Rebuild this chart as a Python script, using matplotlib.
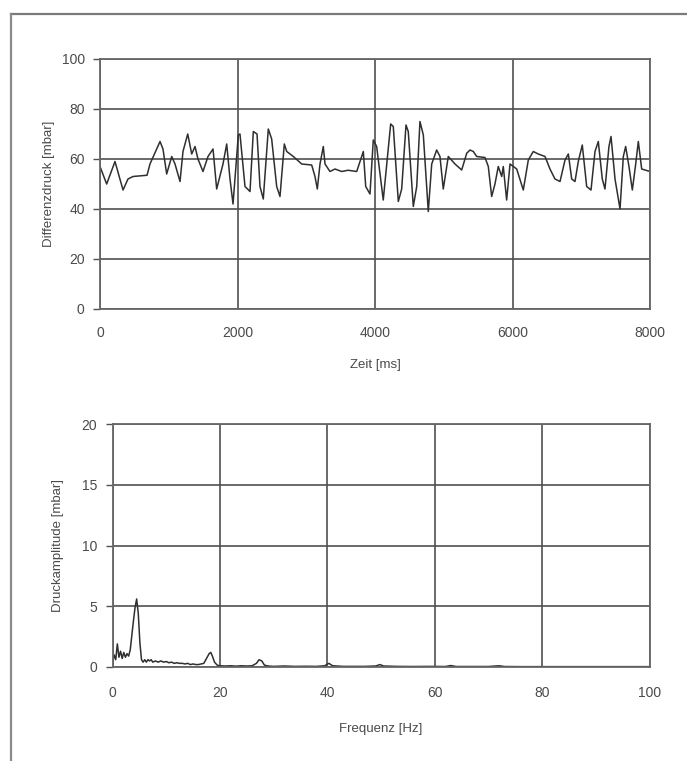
import matplotlib
matplotlib.use("Agg")
import matplotlib.pyplot as plt
from matplotlib.lines import Line2D

plt.rcParams['font.family'] = ['Liberation Sans', 'DejaVu Sans']

# ---- top: pressure difference over time ----
zeit_ms = [0, 97, 218, 335, 407, 480, 684, 727, 873, 916, 970, 1043, 1091, 1164, 1207,
           1276, 1334, 1382, 1425, 1498, 1571, 1644, 1697, 1789, 1843, 1891, 1935,
           2012, 2036, 2109, 2182, 2230, 2284, 2327, 2375, 2448, 2497, 2570, 2618,
           2681, 2716, 2812, 2934, 3079, 3127, 3161, 3200, 3248, 3273, 3345, 3418,
           3516, 3607, 3734, 3830, 3865, 3927, 3975, 4024, 4120, 4228, 4266, 4339,
           4388, 4451, 4484, 4557, 4607, 4654, 4703, 4775, 4825, 4897, 4945, 4993,
           5066, 5164, 5261, 5334, 5382, 5430, 5479, 5600, 5648, 5697, 5745, 5793,
           5843, 5866, 5915, 5964, 6061, 6157, 6230, 6302, 6375, 6473, 6545, 6618,
           6691, 6764, 6812, 6861, 6909, 6957, 7015, 7079, 7142, 7200, 7248, 7306,
           7345, 7403, 7433, 7491, 7564, 7612, 7646, 7694, 7743, 7792, 7830, 7879, 8000]
differenzdruck = [57, 50, 59, 47.6, 52, 53, 53.5, 58, 67, 64, 54, 61, 58, 51, 63,
                  70, 62, 65, 60, 55, 61, 64, 48, 58, 66, 52, 42,
                  69.6, 70, 49, 47, 71, 70, 49, 44, 72, 68, 49, 45,
                  66, 63, 61, 58, 57.6, 53, 48, 58, 65, 58, 55, 56,
                  55, 55.5, 55, 63, 49, 46, 67.6, 65, 43.6, 74, 73, 43,
                  48, 73.6, 71, 41, 49, 75, 69.6, 39, 58, 63.6, 61, 48,
                  61, 58, 55.6, 62.3, 63.6, 63, 61, 60.6, 57, 45, 50, 57,
                  53, 57, 43.6, 58, 56, 47.6, 59.6, 63, 62, 61, 56, 52,
                  51, 59.6, 62, 52, 51, 59, 65.6, 49, 47.6, 63, 67, 52,
                  48, 65, 69, 52, 40, 61, 65, 57, 47.6, 58, 67, 56, 55]

# ---- bottom: amplitude spectrum ----
frequenz_hz = [0.0, 0.3, 0.6, 0.9, 1.2, 1.5, 1.8, 2.1, 2.4, 2.7, 3.0, 3.3, 3.6, 3.9,
               4.2, 4.5, 4.8, 5.1, 5.4, 5.7, 6.0, 6.3, 6.6, 6.9, 7.2, 7.5, 8.0, 8.5,
               9.0, 9.5, 10, 10.5, 11, 11.5, 12, 12.5, 13, 13.5, 14, 14.5, 15, 15.5,
               16, 16.5, 17, 17.5, 18.0, 18.3, 18.6, 19.0, 19.5, 20, 21, 22, 23, 24,
               25, 26, 26.8, 27.3, 27.8, 28.3, 29, 30, 32, 34, 36, 38, 39.5, 40.3,
               41, 43, 45, 47, 49, 49.8, 50.5, 53, 56, 59, 62, 63, 64, 67, 70, 72,
               73, 76, 80, 84, 88, 92, 96, 100]
druckamplitude = [0.3, 1.0, 0.6, 1.9, 0.8, 1.3, 0.7, 1.2, 0.8, 1.1, 0.9, 1.4, 2.6, 3.8,
                  4.9, 5.6, 4.4, 2.0, 0.6, 0.4, 0.6, 0.4, 0.6, 0.5, 0.6, 0.4, 0.5, 0.4,
                  0.5, 0.4, 0.45, 0.35, 0.4, 0.3, 0.35, 0.3, 0.3, 0.25, 0.3, 0.2, 0.25, 0.2,
                  0.2, 0.25, 0.3, 0.7, 1.1, 1.2, 0.9, 0.4, 0.15, 0.1, 0.08, 0.1, 0.07, 0.1,
                  0.08, 0.1, 0.3, 0.6, 0.5, 0.15, 0.08, 0.05, 0.08, 0.05, 0.06, 0.05, 0.1, 0.3,
                  0.1, 0.05, 0.05, 0.05, 0.08, 0.2, 0.08, 0.05, 0.04, 0.05, 0.04, 0.12, 0.04, 0.04, 0.04, 0.1,
                  0.04, 0.03, 0.03, 0.03, 0.03, 0.03, 0.03, 0.03]

top_xticks = [0, 2000, 4000, 6000, 8000]
top_yticks = [0, 20, 40, 60, 80, 100]
bot_xticks = [0, 20, 40, 60, 80, 100]
bot_yticks = [0, 5, 10, 15, 20]

W, H = 687, 761
fig = plt.figure(figsize=(W / 100, H / 100), dpi=100)
fig.patch.set_facecolor('white')

txt = '#4a4a4a'
gridc = '#505050'


def style(ax, xt, yt, xl, yl, xpad, xlpad, ylpad):
    ax.set_xticks(xt)
    ax.set_yticks(yt)
    ax.set_xlim(xt[0], xt[-1])
    ax.set_ylim(yt[0], yt[-1])
    ax.grid(True, color=gridc, linewidth=1.2)
    for s in ax.spines.values():
        s.set_color('#666666')
        s.set_linewidth(1.3)
    ax.tick_params(axis='x', length=0, pad=xpad, labelsize=10, colors=txt)
    ax.tick_params(axis='y', length=5, width=1.0, color=gridc, pad=6, labelsize=10, labelcolor=txt)
    ax.set_xlabel(xl, fontsize=9.5, color=txt, labelpad=xlpad)
    ax.set_ylabel(yl, fontsize=9.5, color=txt, labelpad=ylpad)
    ax.set_axisbelow(True)


ax1 = fig.add_axes([100 / W, 1 - 309 / H, 550 / W, 250 / H])
ax1.plot(zeit_ms, differenzdruck, color='#2f2f2f', linewidth=1.1)
style(ax1, top_xticks, top_yticks, 'Zeit [ms]', 'Differenzdruck [mbar]', 12, 14, 5)

ax2 = fig.add_axes([112.5 / W, 1 - 667 / H, 537 / W, 243 / H])
ax2.plot(frequenz_hz, druckamplitude, color='#2f2f2f', linewidth=1.1)
style(ax2, bot_xticks, bot_yticks, 'Frequenz [Hz]', 'Druckamplitude [mbar]', 14, 16, 13)

# page frame of the scan
fig.add_artist(Line2D([11 / W, 1.0], [1 - 14 / H, 1 - 14 / H], color='#7a7a7a', linewidth=1.6))
fig.add_artist(Line2D([11 / W, 11 / W], [0.0, 1 - 14 / H], color='#8a8a8a', linewidth=1.6))

fig.savefig('out.png', dpi=100, facecolor='white')
